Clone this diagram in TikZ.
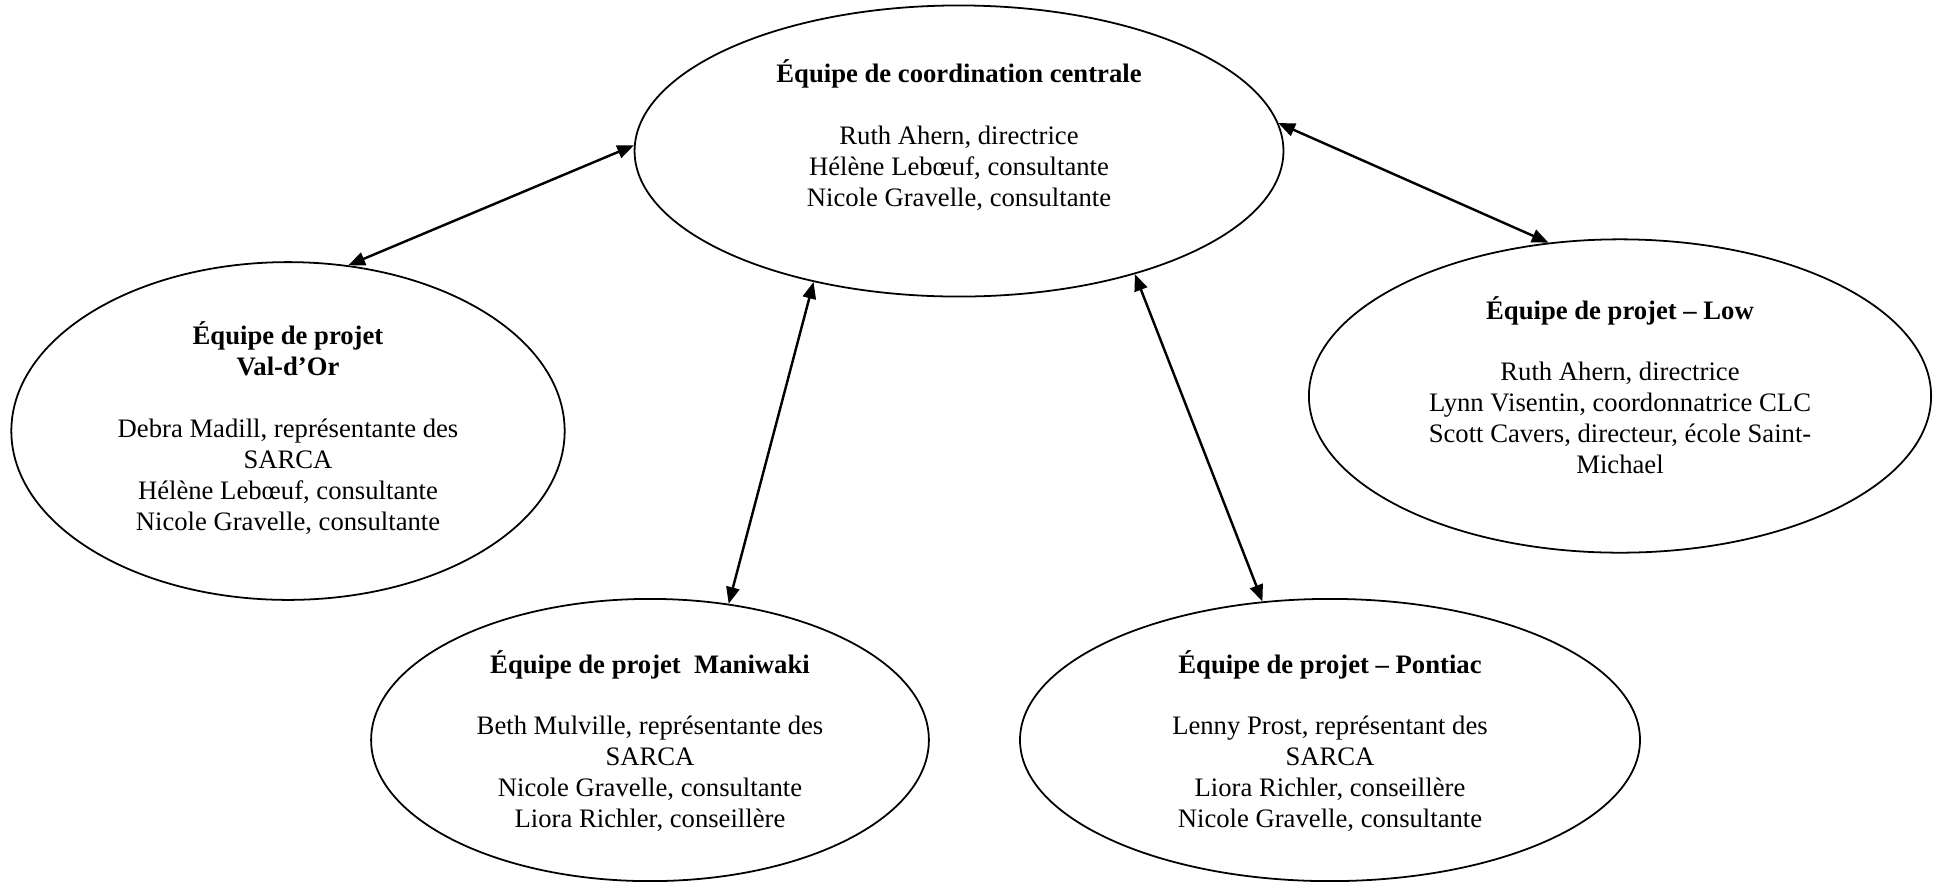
\documentclass[tikz,border=0pt]{standalone}
\usepackage{fontspec}
\setmainfont{Liberation Serif}
\usetikzlibrary{shapes.geometric,arrows.meta}
\begin{document}
\begin{tikzpicture}[x=0.45pt,y=-0.45pt,
      team/.style={draw,ellipse,line width=0.8pt,inner sep=0pt},
      names/.style={align=center,font=\fontsize{12pt}{13.9pt}\selectfont},
      link/.style={{Triangle[length=7.5pt,width=6pt]}-{Triangle[length=7.5pt,width=6pt]},line width=1.1pt}]
      \useasboundingbox (0,0) rectangle (1941,881);
      \node[team,minimum width=292pt,minimum height=131pt] (central) at (959,151) {};
      \node[team,minimum width=249pt,minimum height=152pt] (valdor) at (288,431) {};
      \node[team,minimum width=280pt,minimum height=141pt] (low) at (1620,396) {};
      \node[team,minimum width=251pt,minimum height=127pt] (maniwaki) at (650,740) {};
      \node[team,minimum width=279pt,minimum height=127pt] (pontiac) at (1330,740) {};
      \node[names] (central-txt) at (959,135) {\textbf{Équipe de coordination centrale}\\[13.9pt]
        Ruth Ahern, directrice\\Hélène Lebœuf, consultante\\Nicole Gravelle, consultante};
      \node[names] (valdor-txt) at (288,428) {\textbf{Équipe de projet}\\\textbf{Val-d’Or}\\[13.9pt]
        Debra Madill, représentante des\\SARCA\\Hélène Lebœuf, consultante\\Nicole Gravelle, consultante};
      \node[names] (low-txt) at (1620,385) {\textbf{Équipe de projet – Low}\\[13.9pt]
        Ruth Ahern, directrice\\Lynn Visentin, coordonnatrice CLC\\Scott Cavers, directeur, école Saint-\\Michael};
      \node[names] (maniwaki-txt) at (650,741) {\textbf{Équipe de projet~~Maniwaki}\\[13.9pt]
        Beth Mulville, représentante des\\SARCA\\Nicole Gravelle, consultante\\Liora Richler, conseillère};
      \node[names] (pontiac-txt) at (1330,741) {\textbf{Équipe de projet – Pontiac}\\[13.9pt]
        Lenny Prost, représentant des\\SARCA\\Liora Richler, conseillère\\Nicole Gravelle, consultante};
      \draw[link] (central.179) -- (valdor.70);
      \draw[link] (central.222) -- (maniwaki.60);
      \draw[link] (central.325) -- (pontiac.116);
      \draw[link] (central.5) -- (low.115);
\end{tikzpicture}
\end{document}
